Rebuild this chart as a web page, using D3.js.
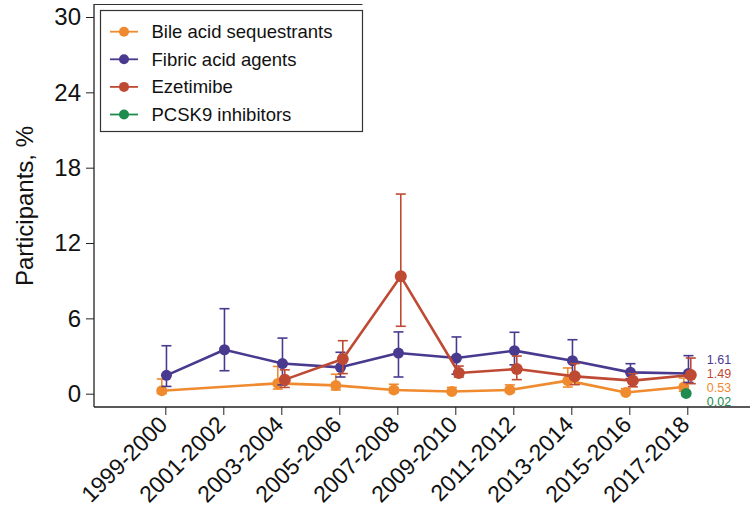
<!DOCTYPE html>
<html><head><meta charset="utf-8">
<script src="https://cdn.jsdelivr.net/npm/d3@7"></script>
<style>
html,body{margin:0;padding:0;background:#fff;}
svg{display:block;font-family:Helvetica,Arial,"Liberation Sans",sans-serif;}
</style></head>
<body>
<svg id="chart" width="750" height="527"></svg>
<script>
// ---- data ----
const years = ["1999-2000","2001-2002","2003-2004","2005-2006","2007-2008","2009-2010","2011-2012","2013-2014","2015-2016","2017-2018"];
const yTicks = [0, 6, 12, 18, 24, 30];
const seriesNames = ["Bile acid sequestrants","Fibric acid agents","Ezetimibe","PCSK9 inhibitors"];
const seriesColors = ["#F08A2E","#4A3A8F","#BF4A33","#1E8C4E"];

const bile   = [0.24, null, 0.82, 0.66, 0.30, 0.18, 0.30, 1.04, 0.10, 0.53];
const bileLo = [0.02, null, 0.37, 0.30, 0.08, 0.05, 0.10, 0.53, 0.02, 0.20];
const bileHi = [1.17, null, 2.17, 1.55, 0.75, 0.50, 0.70, 2.05, 0.40, 1.25];

const fibric   = [1.46, 3.50, 2.40, 2.10, 3.24, 2.84, 3.43, 2.63, 1.70, 1.61];
const fibricLo = [0.58, 1.83, 0.70, 1.33, 1.33, 1.55, 2.30, 1.40, 1.20, 0.90];
const fibricHi = [3.82, 6.77, 4.43, 3.30, 4.92, 4.52, 4.89, 4.30, 2.39, 3.03];

const eze   = [null, null, 1.12, 2.76, 9.35, 1.65, 1.97, 1.38, 1.04, 1.49];
const ezeLo = [null, null, 0.50, 1.60, 5.37, 1.33, 1.12, 0.72, 0.55, 0.80];
const ezeHi = [null, null, 1.90, 4.22, 15.90, 2.20, 3.00, 2.40, 1.60, 2.84];

const pcsk9   = [null, null, null, null, null, null, null, null, null, 0.02];
const pcsk9Lo = [null, null, null, null, null, null, null, null, null, null];
const pcsk9Hi = [null, null, null, null, null, null, null, null, null, null];

// end-of-line labels, one per series (same order as seriesNames)
const endLabels = ["0.53","1.61","1.49","0.02"];

// ---- build ----
const series = [
  {name: seriesNames[0], color: seriesColors[0], v: bile, lo: bileLo, hi: bileHi, r: 5.5, label: endLabels[0]},
  {name: seriesNames[1], color: seriesColors[1], v: fibric, lo: fibricLo, hi: fibricHi, r: 5.5, label: endLabels[1]},
  {name: seriesNames[2], color: seriesColors[2], v: eze, lo: ezeLo, hi: ezeHi, r: 6, label: endLabels[2]},
  {name: seriesNames[3], color: seriesColors[3], v: pcsk9, lo: pcsk9Lo, hi: pcsk9Hi, r: 5.5, label: endLabels[3]}
];

const svg = d3.select("#chart");
const x = d3.scalePoint().domain(years).range([165.3, 687.3]);
const dodge = d3.scalePoint().domain(["Bile acid sequestrants","PCSK9 inhibitors","Fibric acid agents","Ezetimibe"]).range([-3.5, 3.5]);
const y = d3.scaleLinear().domain([0, 30]).range([393.7, 17]);

const axisY = 407, axisX = 94;

// y axis
const yAxis = d3.axisLeft(y).tickValues(yTicks).tickSize(8).tickPadding(5).tickFormat(d3.format("d"));
const gy = svg.append("g").attr("transform", `translate(${axisX},0)`).call(yAxis);
gy.select(".domain").remove();
gy.selectAll(".tick line").attr("stroke", "#222").attr("stroke-width", 1);
gy.selectAll(".tick text").attr("font-size", 24).attr("fill", "#111")
  .style("font-family", "Helvetica,Arial,'Liberation Sans',sans-serif");
svg.append("line").attr("x1", axisX).attr("x2", axisX).attr("y1", 4).attr("y2", axisY)
  .attr("stroke", "#222").attr("stroke-width", 1.3);

// x axis
const xAxis = d3.axisBottom(x).tickSize(8).tickPadding(2);
const gx = svg.append("g").attr("transform", `translate(0,${axisY})`).call(xAxis);
gx.select(".domain").remove();
gx.selectAll(".tick line").attr("stroke", "#222").attr("stroke-width", 1);
gx.selectAll(".tick text").attr("font-size", 23).attr("fill", "#111")
  .style("font-family", "Helvetica,Arial,'Liberation Sans',sans-serif")
  .attr("text-anchor", "end").attr("dy", null).attr("y", 0).attr("x", 0)
  .attr("transform", "translate(3,19) rotate(-45)");
svg.append("line").attr("x1", axisX).attr("x2", 750).attr("y1", axisY).attr("y2", axisY)
  .attr("stroke", "#222").attr("stroke-width", 1.3);

// y title
svg.append("text").attr("transform", `translate(33,206) rotate(-90)`)
  .attr("text-anchor", "middle").attr("font-size", 24).attr("fill", "#111")
  .text("Participants, %");

// series
series.forEach(s => {
  const pts = years.map((yr, i) => ({yr, v: s.v[i], lo: s.lo[i], hi: s.hi[i]})).filter(d => d.v != null);
  const px = d => x(d.yr) + dodge(s.name);
  const g = svg.append("g");
  const eb = pts.filter(d => d.lo != null && d.hi != null);
  g.selectAll(".eb").data(eb).enter().append("line")
    .attr("x1", px).attr("x2", px).attr("y1", d => y(d.lo)).attr("y2", d => y(d.hi))
    .attr("stroke", s.color).attr("stroke-width", 1.6);
  ["lo","hi"].forEach(k => {
    g.selectAll(".cap" + k).data(eb).enter().append("line")
      .attr("x1", d => px(d) - 5).attr("x2", d => px(d) + 5)
      .attr("y1", d => y(d[k])).attr("y2", d => y(d[k]))
      .attr("stroke", s.color).attr("stroke-width", 1.6);
  });
  const line = d3.line().x(px).y(d => y(d.v));
  g.append("path").datum(pts).attr("d", line).attr("fill", "none")
    .attr("stroke", s.color).attr("stroke-width", 2.6).attr("stroke-linejoin", "round");
  g.selectAll(".pt").data(pts).enter().append("circle")
    .attr("cx", px).attr("cy", d => y(d.v)).attr("r", s.r).attr("fill", s.color);
});

// end labels, sorted by value and spread to avoid overlap
const lastIdx = years.length - 1;
const last = years[lastIdx];
const ordered = series.slice().sort((a, b) => b.v[lastIdx] - a.v[lastIdx]);
const meanY = d3.mean(ordered, s => y(s.v[lastIdx])) - 2;
const gap = 14;
ordered.forEach((s, i) => {
  svg.append("text").attr("x", x(last) + 19.5)
    .attr("y", meanY + (i - (ordered.length - 1) / 2) * gap).attr("dy", "0.35em")
    .attr("font-size", 12.5).attr("fill", s.color).text(s.label);
});

// legend
const lg = svg.append("g");
lg.append("rect").attr("x", 100.5).attr("y", 10.5).attr("width", 262).attr("height", 121)
  .attr("fill", "#fff").attr("stroke", "#333").attr("stroke-width", 1.2);
svg.append("line").attr("x1", axisX).attr("x2", 362.5).attr("y1", 4.5).attr("y2", 4.5)
  .attr("stroke", "#333").attr("stroke-width", 1.2);
series.forEach((s, i) => {
  const cy = 31.7 + i * 27.6;
  lg.append("line").attr("x1", 110).attr("x2", 138).attr("y1", cy).attr("y2", cy)
    .attr("stroke", s.color).attr("stroke-width", 1.8);
  lg.append("circle").attr("cx", 124).attr("cy", cy).attr("r", 5).attr("fill", s.color);
  lg.append("text").attr("x", 151.5).attr("y", cy).attr("dy", "0.35em")
    .attr("font-size", 18.5).attr("fill", "#111").text(s.name);
});
</script>
</body></html>
